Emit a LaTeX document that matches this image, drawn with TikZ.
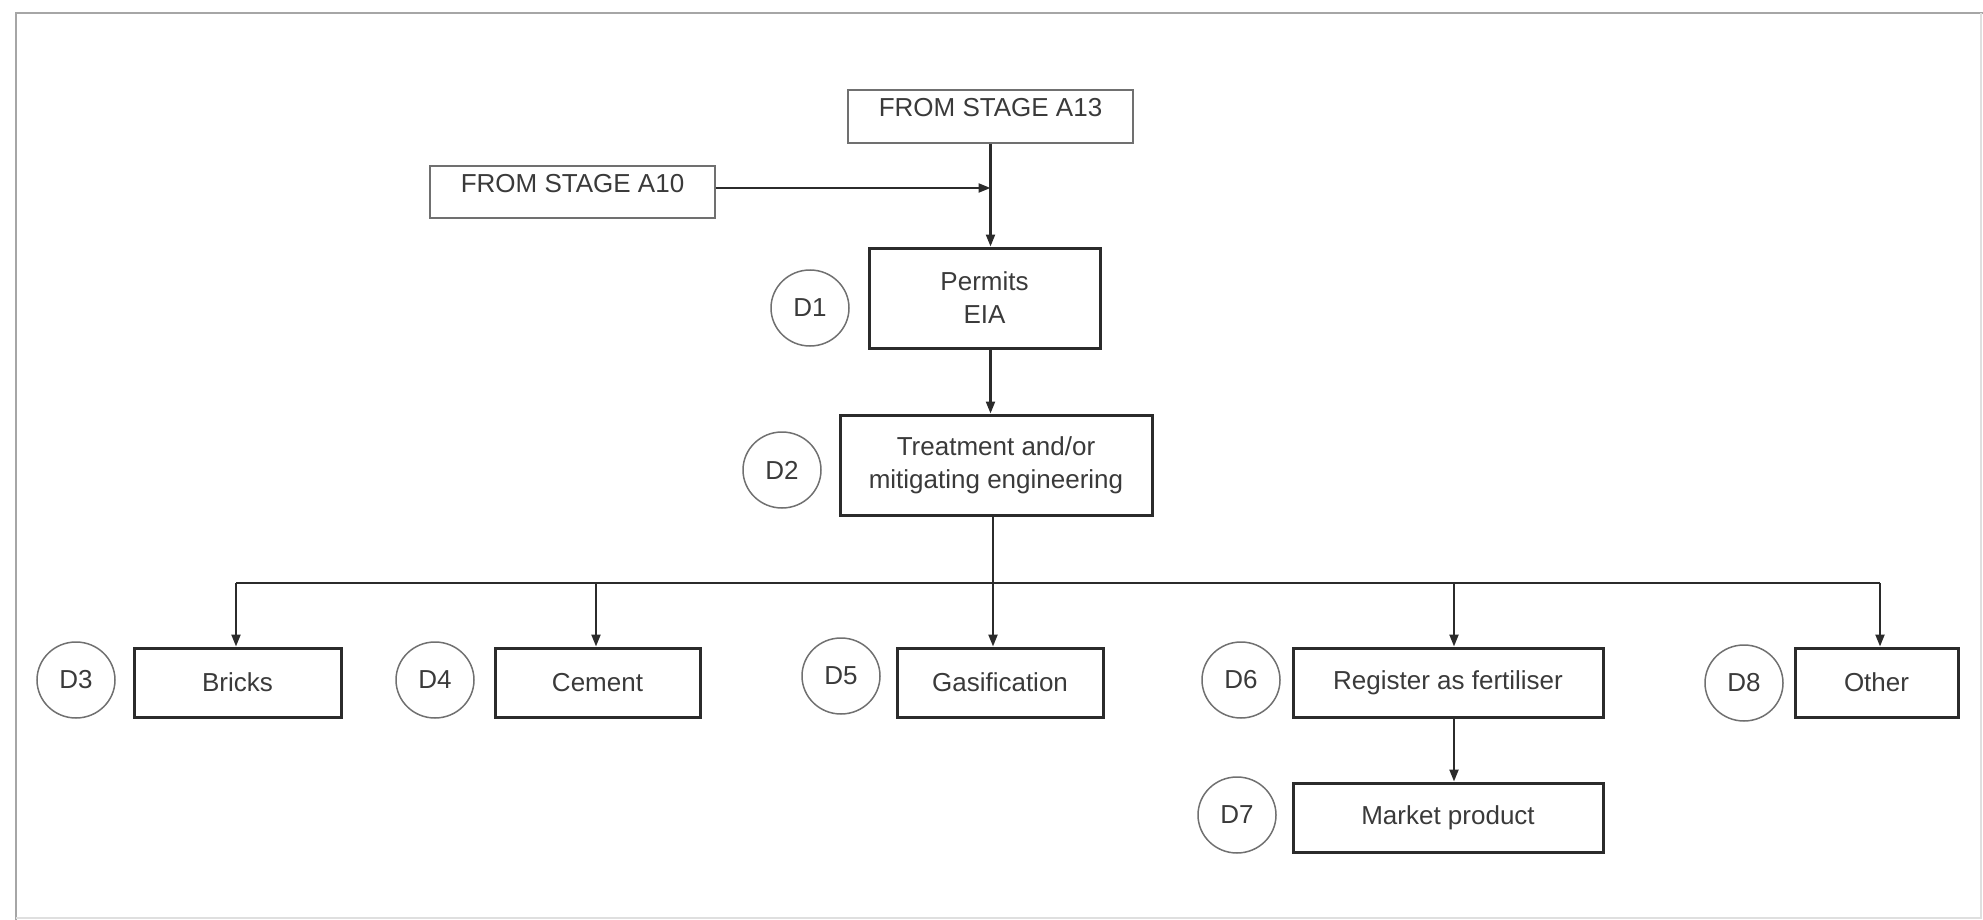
\documentclass[tikz,border=0pt]{standalone}
\usepackage{fontspec}
\setmainfont{Liberation Sans}
\usetikzlibrary{arrows.meta,shapes.geometric}
\definecolor{ink}{HTML}{2B2B2B}
\definecolor{txt}{HTML}{3A3A3A}
\definecolor{soft}{HTML}{707070}
\begin{document}
\begin{tikzpicture}[x=1pt,y=-1pt,
  font=\fontsize{26}{33}\selectfont,
  every node/.style={text=txt},
  stagebox/.style={draw=soft, line width=1.8pt, minimum width=285pt, inner sep=0pt,
                   text height=27pt, text depth=26pt},
  procbox/.style={draw=ink, line width=3pt, inner sep=0pt, align=center},
  rowbox/.style={procbox, minimum height=69pt},
  tag/.style={draw=soft, line width=1.5pt, ellipse, minimum width=78pt,
              minimum height=76pt, inner sep=0pt},
  flow/.style={draw=ink, line width=2.2pt},
  arr/.style={flow, -{Triangle[length=12pt,width=9pt]}},
]
\useasboundingbox (0,0) rectangle (1983,920);

% page frame
\draw[gray!70, line width=2.5pt] (16,920) -- (16,13) -- (1983,13);
\draw[gray!25, line width=1.5pt] (1981,13) -- (1981,918) -- (16,918);

% incoming stages
\node[stagebox] (a13) at (990.5,116.5) {FROM STAGE A13};
\node[stagebox, text depth=25pt] (a10) at (572.5,192) {FROM STAGE A10};

% main chain
\node[procbox, minimum width=231pt, minimum height=100pt] (permits) at (984.5,298) {Permits\\EIA};
\node[tag] (d1) at (810,308) {D1};
\node[procbox, minimum width=312pt, minimum height=100pt] (treat) at (996,465) {Treatment and/or\\mitigating engineering};
\node[tag] (d2) at (782,470) {D2};

% outlets
\node[rowbox, minimum width=207pt] (bricks) at (237.5,682.5) {Bricks};
\node[tag] (d3) at (76,680) {D3};
\node[rowbox, minimum width=205pt] (cement) at (597.5,682.5) {Cement};
\node[tag] (d4) at (435,680) {D4};
\node[rowbox, minimum width=206pt] (gasif) at (1000,682.5) {Gasification};
\node[tag] (d5) at (841,676) {D5};
\node[rowbox, minimum width=310pt] (register) at (1448,682.5) {Register as fertiliser};
\node[tag] (d6) at (1241,680) {D6};
\node[rowbox, minimum width=310pt] (market) at (1448,817.5) {Market product};
\node[tag] (d7) at (1237,815) {D7};
\node[rowbox, minimum width=163pt] (other) at (1876.5,682.5) {Other};
\node[tag] (d8) at (1744,683) {D8};

% connectors
\coordinate (join) at (990.5,188);
\coordinate (hub) at (993,583);
\draw[flow] (a13.south) -- (join);
\draw[arr] (a10.east |- join) -- (join);
\draw[arr] (join) -- (a13.south |- permits.north);
\draw[arr] (permits.south -| a13.south) -- (treat.north -| a13.south);
\draw[flow] (treat.south -| hub) -- (hub);
\draw[arr] (hub) -- (gasif.north -| hub);
\draw[flow] ([xshift=-1.5pt]bricks.north |- hub) -- ([xshift=3.5pt]other.north |- hub);
\draw[arr] ([xshift=-1.5pt]bricks.north |- hub) -- ([xshift=-1.5pt]bricks.north);
\draw[arr] ([xshift=-1.5pt]cement.north |- hub) -- ([xshift=-1.5pt]cement.north);
\draw[arr] ([xshift=6pt]register.north |- hub) -- ([xshift=6pt]register.north);
\draw[arr] ([xshift=3.5pt]other.north |- hub) -- ([xshift=3.5pt]other.north);
\draw[arr] ([xshift=6pt]register.south) -- ([xshift=6pt]market.north);
\end{tikzpicture}
\end{document}
